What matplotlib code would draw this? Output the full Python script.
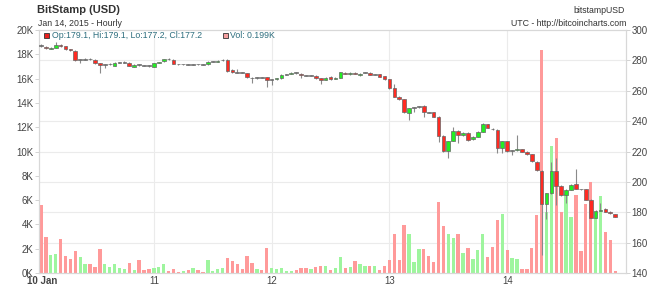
import numpy as np
import matplotlib
matplotlib.use("Agg")
import matplotlib.pyplot as plt
from matplotlib.patches import Rectangle

plt.rcParams['font.family'] = ['Liberation Sans', 'DejaVu Sans']

# hour index since 10 Jan 00:00 UTC, one candle per hour
hours = list(range(1, 119))

# open, close, high, low (USD)
opens = [289.5, 289.0, 287.6, 288.4, 290.2, 289.3, 287.5, 286.4, 280.2, 280.5,
         280.9, 280.5, 278.2, 277.0, 277.3, 276.5, 278.5, 278.6, 278.5, 275.8,
         277.1, 276.8, 276.5, 275.9, 278.2, 279.4, 280.9, 280.2, 277.6, 277.4,
         277.2, 277.1, 277.4, 277.2, 277.4, 279.1, 279.2, 280.0, 280.5, 273.7,
         272.3, 271.9, 271.5, 268.6, 268.3, 268.6, 268.8, 267.1, 267.6, 268.2,
         270.5, 271.0, 271.9, 271.2, 270.3, 269.9, 269.9, 268.2, 267.1, 269.3,
         267.9, 268.6, 271.9, 270.8, 271.9, 270.4, 271.7, 271.9, 270.6, 270.8,
         269.7, 267.5, 261.6, 256.1, 254.3, 245.1, 248.6, 249.2, 250.0, 245.8,
         245.8, 242.9, 230.4, 220.3, 226.9, 233.7, 230.9, 232.4, 228.0, 229.8,
         233.1, 237.9, 235.0, 234.2, 222.1, 226.9, 220.3, 220.9, 221.6, 219.9,
         218.1, 213.3, 207.2, 185.2, 192.5, 207.2, 197.5, 191.4, 194.7, 198.6,
         195.3, 195.3, 188.1, 176.4, 181.0, 182.2, 180.4, 179.1]
closes = [289.3, 287.9, 288.4, 290.2, 289.4, 287.5, 286.6, 280.2, 280.4, 280.9,
          280.7, 278.2, 277.0, 277.2, 277.5, 278.5, 278.6, 278.8, 276.5, 277.2,
          277.0, 276.6, 276.3, 278.0, 278.7, 280.9, 280.7, 277.8, 277.4, 277.4,
          277.0, 277.4, 277.3, 277.0, 279.1, 279.3, 279.9, 280.3, 273.0, 272.1,
          271.9, 271.8, 268.8, 268.2, 268.6, 268.5, 267.1, 267.2, 268.2, 270.4,
          270.8, 271.9, 271.7, 270.4, 269.9, 269.9, 268.2, 266.9, 268.6, 267.7,
          268.6, 272.1, 271.0, 271.9, 271.2, 271.2, 271.9, 270.4, 270.8, 269.3,
          267.5, 261.6, 256.1, 254.6, 245.8, 248.4, 248.9, 249.5, 245.8, 245.6,
          242.9, 230.4, 220.3, 226.9, 233.7, 230.9, 232.4, 227.6, 229.8, 233.1,
          237.9, 235.7, 234.6, 222.1, 226.9, 220.3, 220.5, 221.4, 219.9, 218.4,
          213.7, 207.8, 185.2, 192.5, 207.2, 197.5, 191.4, 194.7, 198.0, 195.3,
          195.1, 188.1, 176.4, 180.8, 181.6, 180.4, 179.3, 177.2]
highs = [290.5, 289.5, 288.8, 292.3, 290.6, 289.6, 287.8, 286.8, 281.0, 281.8,
         281.5, 280.9, 278.5, 277.8, 278.0, 279.0, 279.2, 279.3, 279.0, 277.6,
         277.6, 277.2, 276.9, 278.4, 279.1, 281.2, 281.3, 280.6, 277.9, 277.8,
         277.5, 277.7, 277.7, 277.5, 279.5, 279.6, 280.2, 280.7, 280.8, 274.0,
         274.1, 272.2, 271.8, 268.9, 268.9, 269.0, 269.1, 267.6, 268.6, 270.8,
         271.2, 272.2, 272.2, 271.5, 270.6, 270.3, 270.2, 268.5, 268.9, 269.6,
         269.0, 272.4, 272.2, 272.2, 272.2, 271.5, 272.3, 272.2, 271.2, 271.1,
         270.0, 267.8, 264.2, 256.4, 254.6, 248.8, 249.3, 249.9, 250.3, 246.2,
         246.1, 243.2, 230.7, 227.2, 236.4, 234.0, 232.8, 232.7, 230.1, 233.4,
         239.0, 238.2, 235.4, 234.5, 227.2, 227.2, 221.0, 230.9, 221.9, 220.2,
         218.4, 213.6, 207.5, 192.8, 213.3, 215.5, 197.8, 195.0, 198.3, 208.3,
         195.6, 195.6, 188.4, 181.2, 185.9, 182.5, 180.7, 179.1]
lows = [288.5, 287.5, 287.2, 288.2, 289.0, 287.0, 286.2, 279.8, 278.0, 280.0,
        280.2, 277.8, 271.9, 274.8, 276.8, 276.0, 278.0, 278.2, 276.2, 275.4,
        276.6, 276.2, 275.9, 275.5, 278.0, 279.2, 280.4, 277.5, 277.1, 277.0,
        276.7, 276.8, 277.0, 276.7, 277.0, 278.8, 279.0, 279.8, 272.6, 271.8,
        271.6, 271.4, 268.4, 265.3, 268.0, 268.1, 262.7, 263.8, 267.3, 268.0,
        270.2, 270.8, 271.3, 268.6, 269.5, 269.5, 267.9, 264.2, 266.8, 267.4,
        267.6, 268.3, 270.7, 270.4, 270.9, 269.8, 271.5, 270.1, 270.3, 269.0,
        267.2, 261.2, 255.8, 254.2, 245.4, 240.5, 245.8, 248.9, 242.9, 245.2,
        242.6, 226.0, 219.9, 215.9, 226.6, 225.4, 230.5, 227.2, 227.7, 229.5,
        232.8, 235.3, 234.2, 218.8, 218.8, 219.9, 217.7, 220.5, 219.5, 218.0,
        213.3, 207.4, 151.9, 175.6, 192.2, 184.8, 190.8, 185.9, 194.4, 195.0,
        194.8, 187.8, 176.0, 176.0, 180.7, 180.1, 179.0, 177.2]

# hourly volume, thousands of BTC
volume_k = [5.6, 2.94, 1.48, 1.57, 2.8, 1.4, 1.15, 1.84, 1.32, 0.71,
            0.71, 0.52, 2.0, 0.71, 0.52, 0.77, 0.38, 0.33, 0.82, 0.25,
            1.07, 0.25, 0.3, 0.44, 0.52, 0.71, 0.19, 0.33, 0.11, 0.14,
            0.22, 0.41, 0.25, 0.08, 1.1, 0.16, 0.33, 0.38, 1.26, 0.99,
            0.71, 0.3, 1.4, 0.82, 0.33, 0.27, 2.03, 0.41, 0.36, 0.41,
            0.16, 0.16, 0.22, 0.38, 0.38, 0.3, 0.49, 0.58, 0.58, 0.27,
            0.38, 1.29, 0.38, 0.47, 0.96, 0.71, 0.58, 0.58, 0.58, 0.22,
            0.58, 1.07, 3.2, 1.04, 3.95, 3.2, 0.9, 2.0, 2.0, 1.4,
            0.93, 5.87, 3.9, 3.18, 2.91, 3.18, 1.62, 2.03, 1.15, 1.9,
            3.18, 1.29, 2.12, 4.36, 4.89, 1.9, 1.21, 1.15, 0.3, 0.36,
            2.03, 4.78, 18.36, 5.0, 10.45, 11.1, 5.05, 6.5, 4.64, 6.42,
            1.81, 5.68, 7.46, 4.5, 6.37, 3.4, 2.72, 0.199]

day_ticks = [1.2, 24, 48, 72, 96]
day_labels = ['10 Jan', '11', '12', '13', '14']
vol_ticks = list(range(0, 21, 2))
price_ticks = list(range(140, 301, 20))

o = np.array(opens)
c = np.array(closes)
up = c >= o

fig = plt.figure(figsize=(6.6, 2.89), dpi=100)
ax = fig.add_axes([39 / 660, 16 / 289, 587 / 660, 243 / 289])
ax2 = ax.twinx()

ax.set_xlim(0.6, 120.2)
ax.set_ylim(0, 20)
ax2.set_ylim(140, 300)

# grid (price gridlines expressed in volume units so they sit behind the bars)
for p in price_ticks[1:-1]:
    ax.axhline((p - 140) / 160 * 20, color='#ebebeb', lw=0.8, zorder=0)
for d in day_ticks[1:]:
    ax.axvline(d, color='#ebebeb', lw=0.8, zorder=0)

vol_colors = np.where(up, '#9ef59e', '#ff9a9a')
ax.bar(hours, volume_k, width=0.68, color=vol_colors, zorder=2)

ax2.vlines(hours, lows, highs, color='#8a8a8a', lw=0.8, zorder=2)
body = np.where(np.abs(c - o) < 0.5, 0.5, np.abs(c - o))
bottom = np.minimum(o, c)
body_colors = np.where(up, '#22ee22', '#ff2a22')
body_colors = np.where(np.abs(c - o) < 0.5, '#8a8a8a', body_colors)
ax2.bar(hours, body, bottom=bottom, width=0.75, color=body_colors,
        edgecolor='#666666', linewidth=0.5, zorder=3)

ax.set_yticks(vol_ticks)
ax.set_yticklabels([f'{v}K' for v in vol_ticks])
ax2.set_yticks(price_ticks)
ax.set_xticks(day_ticks)
ax.set_xticklabels(day_labels)
ax.get_xticklabels()[0].set_fontweight('bold')

ax.tick_params(axis='y', length=3, width=0.6, color='#cccccc', labelsize=7,
               labelcolor='#444444', pad=1)
ax2.tick_params(axis='y', length=3, width=0.6, color='#cccccc', labelsize=7,
                labelcolor='#444444', pad=1)
ax.tick_params(axis='x', length=0, labelsize=7, labelcolor='#444444', pad=2)

for a in (ax, ax2):
    for s in a.spines.values():
        s.set_color('#d8d8d8')
        s.set_linewidth(0.8)

fig.text(37 / 660, 1 - 10 / 289, 'BitStamp (USD)', fontsize=8,
         fontweight='bold', color='#333333', va='center')
fig.text(38 / 660, 1 - 24 / 289, 'Jan 14, 2015 - Hourly', fontsize=6.3,
         color='#333333', va='center')
fig.text(625 / 660, 1 - 10.5 / 289, 'bitstampUSD', fontsize=6.3,
         color='#333333', va='center', ha='right')
fig.text(626 / 660, 1 - 23 / 289, 'UTC - http://bitcoincharts.com',
         fontsize=6.3, color='#333333', va='center', ha='right')

fig.patches.append(Rectangle((44 / 660, 1 - 38.5 / 289), 5 / 660, 5 / 289,
                             transform=fig.transFigure, facecolor='#e8201e',
                             edgecolor='#333333', lw=0.6))
fig.text(52 / 660, 1 - 35.5 / 289,
         f'Op:{opens[-1]}, Hi:{highs[-1]}, Lo:{lows[-1]}, Cl:{closes[-1]}',
         fontsize=6.3, color='#2d6e7e', va='center')
fig.patches.append(Rectangle((223 / 660, 1 - 38.5 / 289), 5 / 660, 5 / 289,
                             transform=fig.transFigure, facecolor='#f5a0a0',
                             edgecolor='#333333', lw=0.6))
fig.text(230 / 660, 1 - 35.5 / 289, f'Vol: {volume_k[-1]}K',
         fontsize=6.3, color='#2d6e7e', va='center')

fig.savefig('out.png', dpi=100)
